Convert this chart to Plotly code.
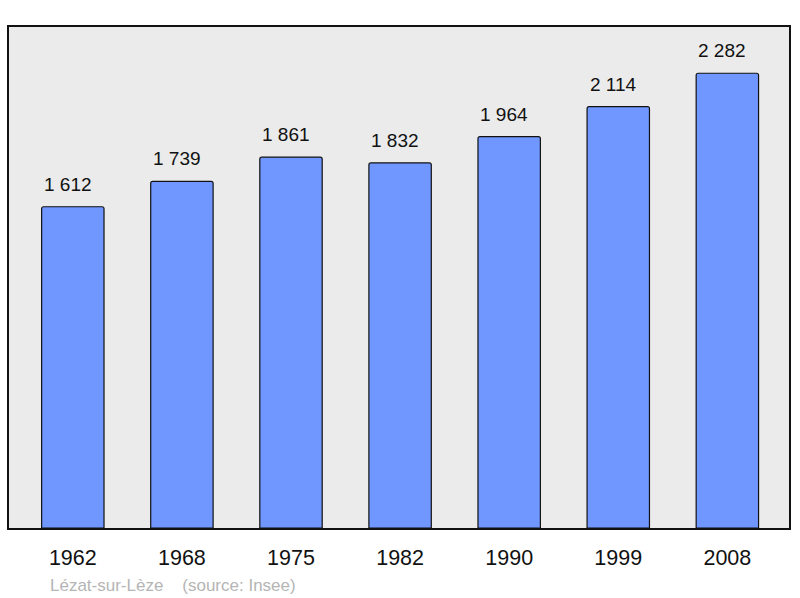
import plotly.graph_objects as go

years = ["1962", "1968", "1975", "1982", "1990", "1999", "2008"]
population = [1612, 1739, 1861, 1832, 1964, 2114, 2282]
value_labels = ["1 612", "1 739", "1 861", "1 832", "1 964", "2 114", "2 282"]

xs = list(range(len(years)))

fig = go.Figure()
fig.add_trace(go.Bar(
    x=xs, y=population, width=0.572,
    marker=dict(color="#7096ff", line=dict(color="#111111", width=1.2), cornerradius=2),
    hoverinfo="skip",
))

for x, v, t in zip(xs, population, value_labels):
    fig.add_annotation(x=x, y=v, text=t, showarrow=False, yanchor="bottom", yshift=10, xshift=-5,
                       font=dict(family="Liberation Sans, Arial, sans-serif", size=19, color="#111111"))

fig.add_annotation(xref="paper", yref="paper", x=(48 - 9) / 782.5, y=-57 / 501,
                   text="Lézat-sur-Lèze&nbsp;&nbsp;&nbsp;&nbsp;(source: Insee)",
                   showarrow=False, xanchor="left", yanchor="middle",
                   font=dict(family="Liberation Sans, Arial, sans-serif", size=17, color="#b5b5b5"))

fig.update_layout(
    width=800, height=598,
    margin=dict(l=9, r=8.5, t=27, b=70),
    paper_bgcolor="white", plot_bgcolor="#ebebeb",
    showlegend=False,
    xaxis=dict(range=[-0.585, 6.565], tickmode="array", tickvals=xs, ticktext=years,
               showgrid=False, zeroline=False, showline=True, mirror=True, linecolor="#111111", linewidth=2,
               ticks="", ticklabelstandoff=9,
               tickfont=dict(family="Liberation Sans, Arial, sans-serif", size=21.5, color="#111111")),
    yaxis=dict(range=[0, 2514], showgrid=False, zeroline=False, showticklabels=False, ticks="",
               showline=True, mirror=True, linecolor="#111111", linewidth=2),
)

fig.write_html("out.html", config={"displayModeBar": False},
               post_script="document.body.style.margin='0';document.body.style.overflow='hidden';")
